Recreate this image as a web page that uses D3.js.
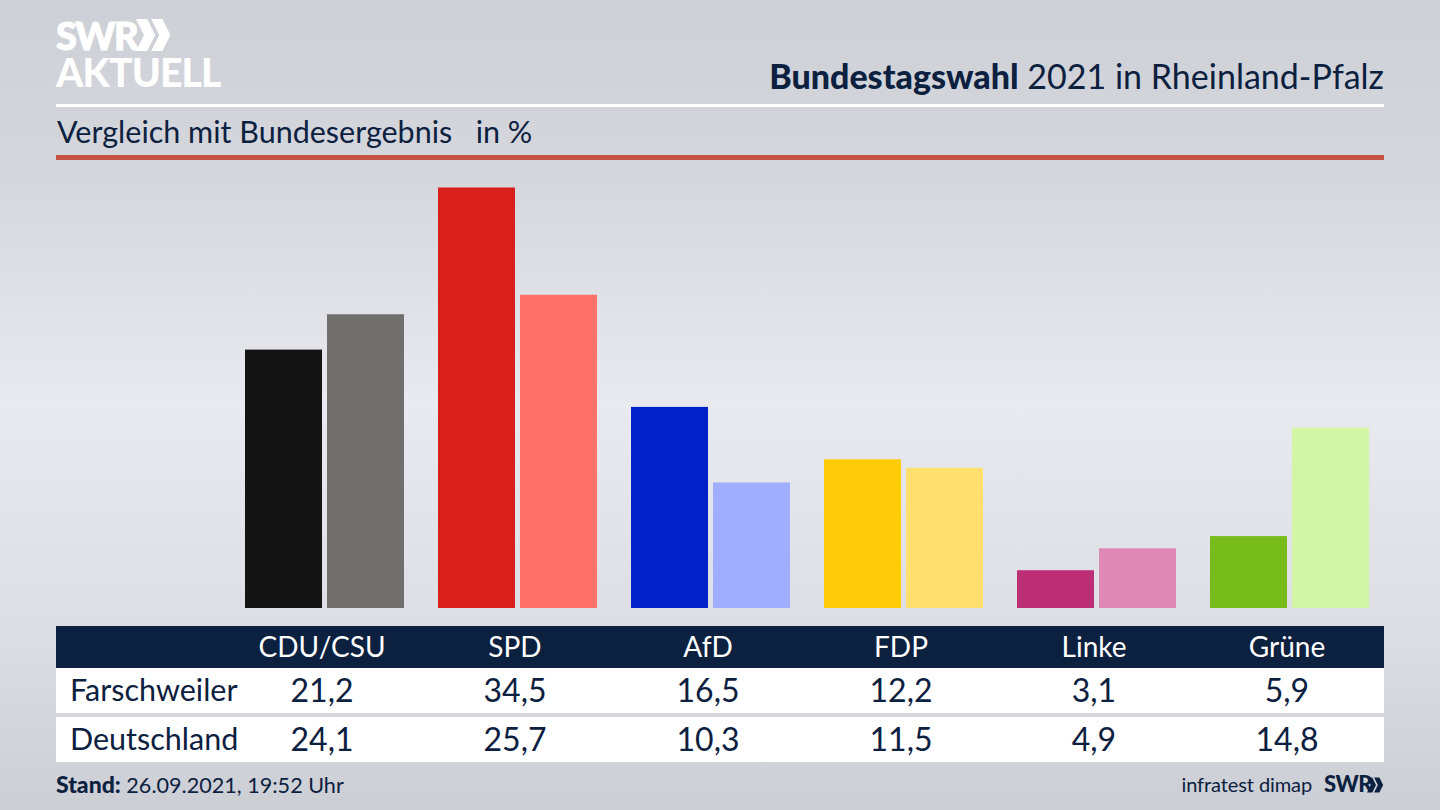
<!DOCTYPE html>
<html>
<head>
<meta charset="utf-8">
<script src="https://cdn.jsdelivr.net/npm/d3@7"></script>
<style>
  html, body { margin: 0; padding: 0; background: #d5d7dd; }
  svg { display: block; }
  text { font-family: "Lato", sans-serif; fill: #0c2040; }
</style>
</head>
<body>
<script>
// data
var parties = ["CDU/CSU", "SPD", "AfD", "FDP", "Linke", "Grüne"];
var rowNames = ["Farschweiler", "Deutschland"];
var farschweiler = [21.2, 34.5, 16.5, 12.2, 3.1, 5.9];
var deutschland = [24.1, 25.7, 10.3, 11.5, 4.9, 14.8];
var strongColors = ["#141414", "#d91f1c", "#0122c8", "#ffcc0a", "#bc2f76", "#78bc1c"];
var lightColors = ["#706f6d", "#ff726c", "#a0aeff", "#ffe06e", "#e088b6", "#d2f5a6"];

var w = 1440;
var h = 810;
var navy = "#0c2040";

var svg = d3.select("body").append("svg").attr("width", w).attr("height", h);

// background
var defs = svg.append("defs");
var bg = defs.append("linearGradient").attr("id", "bg")
  .attr("x1", 0).attr("y1", 0).attr("x2", 0).attr("y2", 1);
bg.append("stop").attr("offset", "0%").attr("stop-color", "#cdd0d6");
bg.append("stop").attr("offset", "22%").attr("stop-color", "#d5d7dd");
bg.append("stop").attr("offset", "50%").attr("stop-color", "#e9eaf0");
bg.append("stop").attr("offset", "78%").attr("stop-color", "#dcdee3");
bg.append("stop").attr("offset", "100%").attr("stop-color", "#cbced4");
svg.append("rect").attr("width", w).attr("height", h).attr("fill", "url(#bg)");

// scales
var x = d3.scaleBand().domain(parties).range([225.5, 1383.5]);
var side = d3.scaleBand().domain(rowNames).range([-77, 82]).paddingInner(5 / 82);
var y = d3.scaleLinear().domain([0, 34.5]).range([608, 187.5]);
var center = function(p) { return x(p) + x.bandwidth() / 2; };

// bars
var series = [
  { name: rowNames[0], values: farschweiler, colors: strongColors },
  { name: rowNames[1], values: deutschland, colors: lightColors }
];
var groups = svg.selectAll("g.series").data(series).enter().append("g").attr("class", "series");
groups.selectAll("rect")
  .data(function(s) {
    return parties.map(function(p, i) { return { party: p, value: s.values[i], color: s.colors[i], name: s.name }; });
  })
  .enter().append("rect")
  .attr("x", function(d) { return center(d.party) + side(d.name); })
  .attr("y", function(d) { return y(d.value); })
  .attr("width", side.bandwidth())
  .attr("height", function(d) { return y(0) - y(d.value); })
  .attr("fill", function(d) { return d.color; });

// header
function chevrons(g, cx, cy, s, color) {
  [0, 0.95].forEach(function(k) {
    var ox = cx + k * s;
    g.append("path")
      .attr("d", "M" + ox + "," + (cy - s) + "L" + (ox + s * 0.7) + "," + (cy - s) + "L" + (ox + s * 1.2) + "," + cy +
        "L" + (ox + s * 0.7) + "," + (cy + s) + "L" + ox + "," + (cy + s) + "L" + (ox + s * 0.5) + "," + cy + "Z")
      .attr("fill", color);
  });
}
svg.append("text").attr("x", 56).attr("y", 50).style("fill", "#fff").style("stroke", "#fff").style("stroke-width", 1)
  .style("font-size", "38px").style("font-weight", 900).style("letter-spacing", "-1.5px").text("SWR");
chevrons(svg, 136, 35, 16, "#fff");
svg.append("text").attr("x", 56).attr("y", 87).style("fill", "#fff")
  .style("font-size", "39px").style("font-weight", 900).style("letter-spacing", "-0.8px").text("AKTUELL");

var title = svg.append("text").attr("x", 1384).attr("y", 89).attr("text-anchor", "end").style("font-size", "34px");
title.append("tspan").style("font-weight", 900).text("Bundestagswahl");
title.append("tspan").text(" 2021 in Rheinland-Pfalz");

svg.append("rect").attr("x", 56).attr("y", 104).attr("width", 1328).attr("height", 3).attr("fill", "#fff");
svg.append("text").attr("x", 57).attr("y", 143).style("font-size", "30.5px")
  .text("Vergleich mit Bundesergebnis\u00a0\u00a0 in %");
svg.append("rect").attr("x", 56).attr("y", 155).attr("width", 1328).attr("height", 5).attr("fill", "#c5533f");

// table
svg.append("rect").attr("x", 56).attr("y", 626).attr("width", 1328).attr("height", 42).attr("fill", navy);
var rowTops = d3.scaleOrdinal().domain(rowNames).range([668, 717]);
svg.selectAll("rect.row").data(rowNames).enter().append("rect").attr("class", "row")
  .attr("x", 56).attr("y", function(d) { return rowTops(d); })
  .attr("width", 1328).attr("height", 45).attr("fill", "#fff");

svg.selectAll("text.party").data(parties).enter().append("text").attr("class", "party")
  .attr("x", center).attr("y", 657).attr("text-anchor", "middle")
  .style("fill", "#fff").style("font-size", "28px").text(function(d) { return d; });

svg.selectAll("text.rowname").data(rowNames).enter().append("text").attr("class", "rowname")
  .attr("x", 70).attr("y", function(d) { return rowTops(d) + 33; })
  .style("font-size", "30.5px").text(function(d) { return d; });

var comma = function(v) { return d3.format(".1f")(v).replace(".", ","); };
series.forEach(function(s) {
  svg.selectAll("text.v" + rowNames.indexOf(s.name)).data(parties).enter().append("text")
    .attr("class", "v" + rowNames.indexOf(s.name))
    .attr("x", center).attr("y", rowTops(s.name) + 34).attr("text-anchor", "middle")
    .style("font-size", "32px").text(function(d, i) { return comma(s.values[i]); });
});

// footer
var stand = svg.append("text").attr("x", 56).attr("y", 793).style("font-size", "23px");
stand.append("tspan").style("font-weight", 900).text("Stand:");
stand.append("tspan").style("font-size", "21.6px").text(" 26.09.2021, 19:52 Uhr");
svg.append("text").attr("x", 1312).attr("y", 792).attr("text-anchor", "end").style("font-size", "20px").style("letter-spacing", "-0.1px").text("infratest dimap");
svg.append("text").attr("x", 1324).attr("y", 792).style("font-size", "22px").style("font-weight", 900).style("letter-spacing", "-0.5px").text("SWR");
chevrons(svg, 1367, 785, 7.5, navy);
</script>
</body>
</html>
